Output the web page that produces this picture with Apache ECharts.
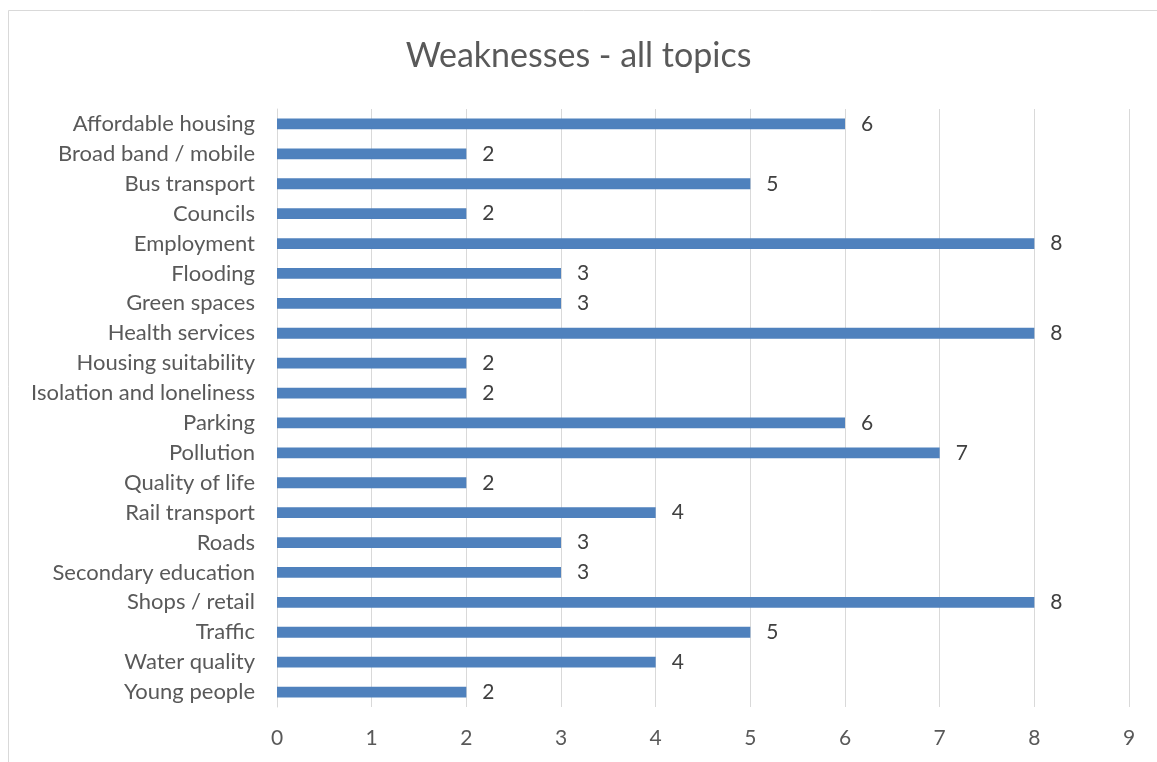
<!DOCTYPE html>
<html><head><meta charset="utf-8">
<script src="https://cdn.jsdelivr.net/npm/echarts@6/dist/echarts.min.js"></script>
<style>html,body{margin:0;padding:0;background:#fff}#c{width:1157px;height:762px}</style>
</head><body><div id="c"></div>
<script>
const titleText = 'Weaknesses - all topics';
const categories = ['Affordable housing','Broad band / mobile','Bus transport','Councils','Employment','Flooding','Green spaces','Health services','Housing suitability','Isolation and loneliness','Parking','Pollution','Quality of life','Rail transport','Roads','Secondary education','Shops / retail','Traffic','Water quality','Young people'];
const values = [6,2,5,2,8,3,3,8,2,2,6,7,2,4,3,3,8,5,4,2];
const axisMin = 0, axisMax = 9, axisStep = 1;

const font = 'Lato, "Open Sans", sans-serif';
const chart = echarts.init(document.getElementById('c'), null, {renderer:'canvas'});
chart.setOption({
  animation:false,
  backgroundColor:'#fff',
  graphic:[{type:'rect', shape:{x:8.5,y:10.5,width:1160,height:770}, style:{fill:null, stroke:'#d9d9d9', lineWidth:1}, z:-1}],
  title:{text:titleText, left:'center', top:34, textStyle:{fontFamily:font, fontSize:34, fontWeight:'normal', color:'#595959'}},
  grid:{left:277, right:28, top:109, bottom:55, containLabel:false},
  xAxis:{type:'value', min:axisMin, max:axisMax, interval:axisStep,
    axisLine:{show:false}, axisTick:{show:false},
    splitLine:{show:true, lineStyle:{color:'#d9d9d9', width:1}},
    axisLabel:{fontFamily:font, fontSize:21, color:'#595959', margin:21}},
  yAxis:{type:'category', data:categories, inverse:true,
    axisLine:{show:true, lineStyle:{color:'#d9d9d9', width:1}}, axisTick:{show:false},
    axisLabel:{fontFamily:font, fontSize:22, color:'#595959', margin:22}},
  series:[{type:'bar', data:values, barWidth:'36%',
    itemStyle:{color:'#4f81bd'},
    label:{show:true, position:'right', distance:16, fontFamily:font, fontSize:21, color:'#404040'}}]
});
</script></body></html>
